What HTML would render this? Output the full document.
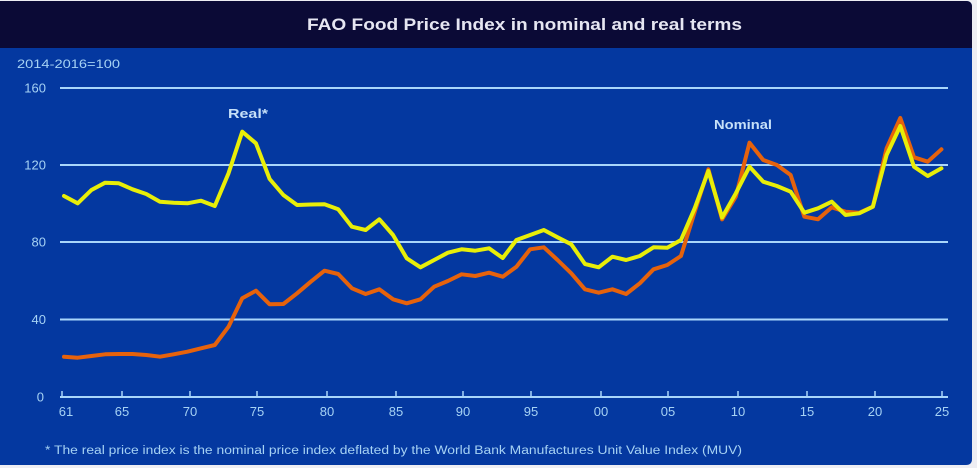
<!DOCTYPE html>
<html><head><meta charset="utf-8"><style>
html,body{margin:0;padding:0;background:#eeeef3;}
svg{display:block;}
text{font-family:"Liberation Sans",sans-serif;}
</style></head><body>
<svg width="977" height="468" viewBox="0 0 977 468" xmlns="http://www.w3.org/2000/svg">
<rect x="0" y="0" width="977" height="468" fill="#eeeef3"/>
<path d="M0,1 H966 Q972,1 972,7 V459 Q972,465 966,465 H0 Z" fill="#0438a0"/>
<path d="M0,1 H966 Q972,1 972,7 V48 H0 Z" fill="#0b0a36"/>
<text x="307" y="30" font-size="17" font-weight="bold" fill="#e6e6f2" textLength="435" lengthAdjust="spacingAndGlyphs">FAO Food Price Index in nominal and real terms</text>
<text x="17" y="68" font-size="12" fill="#a6d2f4" textLength="103" lengthAdjust="spacingAndGlyphs">2014-2016=100</text>
<g stroke="#a9d6fb" stroke-width="2">
<line x1="60" y1="88" x2="948" y2="88"/>
<line x1="60" y1="165" x2="948" y2="165"/>
<line x1="60" y1="242" x2="948" y2="242"/>
<line x1="60" y1="319.5" x2="948" y2="319.5"/>
<line x1="60" y1="397" x2="948" y2="397"/>
</g>
<g stroke="#a9d6fb" stroke-width="1.5">
<line x1="62" y1="397" x2="62" y2="391"/>
<line x1="122" y1="397" x2="122" y2="391"/>
<line x1="190" y1="397" x2="190" y2="391"/>
<line x1="257" y1="397" x2="257" y2="391"/>
<line x1="327" y1="397" x2="327" y2="391"/>
<line x1="396" y1="397" x2="396" y2="391"/>
<line x1="463" y1="397" x2="463" y2="391"/>
<line x1="531" y1="397" x2="531" y2="391"/>
<line x1="601" y1="397" x2="601" y2="391"/>
<line x1="668" y1="397" x2="668" y2="391"/>
<line x1="738" y1="397" x2="738" y2="391"/>
<line x1="807" y1="397" x2="807" y2="391"/>
<line x1="875" y1="397" x2="875" y2="391"/>
<line x1="942" y1="397" x2="942" y2="391"/>
</g>
<g font-size="13" fill="#a6d2f4" text-anchor="end">
<text x="46" y="92.5">160</text>
<text x="46" y="169.5">120</text>
<text x="46" y="246.5">80</text>
<text x="46" y="324">40</text>
<text x="44" y="401.5">0</text>
</g>
<g font-size="13" fill="#a6d2f4" text-anchor="middle">
<text x="66" y="416">61</text>
<text x="122" y="416">65</text>
<text x="190" y="416">70</text>
<text x="257" y="416">75</text>
<text x="327" y="416">80</text>
<text x="396" y="416">85</text>
<text x="463" y="416">90</text>
<text x="531" y="416">95</text>
<text x="601" y="416">00</text>
<text x="668" y="416">05</text>
<text x="738" y="416">10</text>
<text x="807" y="416">15</text>
<text x="875" y="416">20</text>
<text x="942" y="416">25</text>
</g>
<polyline fill="none" stroke="#e6620c" stroke-width="4" stroke-linejoin="round" stroke-linecap="round" points="64,356.7 77.71,357.7 91.42,356 105.13,354.3 118.84,354 132.55,354 146.26,355 159.97,356.7 173.68,354.3 187.39,351.7 201.1,348.3 214.81,345 228.52,326.7 242.23,298.3 255.94,290.7 269.65,304.3 283.36,304 297.07,293.3 310.78,281.7 324.49,270.7 338.2,274 351.91,288.3 365.62,294 379.33,289.3 393.04,299.3 406.75,303.3 420.46,299.3 434.17,286.7 447.88,281 461.59,274.3 475.3,276 489.01,272.7 502.72,276.7 516.43,266.7 530.14,249.3 543.85,247.3 557.56,260 571.27,273.3 584.98,289.3 598.69,292.7 612.4,289.3 626.11,294 639.82,283.3 653.53,269.3 667.24,265 680.95,256 694.66,212 708.37,169.3 722.08,219.3 735.79,196.7 749.5,142.7 763.21,160 776.92,165 790.63,175 804.34,216.7 818.05,219.3 831.76,207.3 845.47,211.7 859.18,212.7 872.89,206.7 886.6,148.3 900.31,118 914.02,157.3 927.73,161.7 941.44,149.3"/>
<polyline fill="none" stroke="#e8ee08" stroke-width="4" stroke-linejoin="round" stroke-linecap="round" points="64,196 77.71,203.3 91.42,190 105.13,182.7 118.84,183.3 132.55,189.3 146.26,194 159.97,201.7 173.68,202.7 187.39,203.3 201.1,200.7 214.81,206 228.52,173.3 242.23,131.7 255.94,143.3 269.65,179 283.36,195 297.07,205 310.78,204.5 324.49,204.3 338.2,209.3 351.91,226.7 365.62,230 379.33,219.3 393.04,235 406.75,258.3 420.46,267.3 434.17,260 447.88,252.7 461.59,249.3 475.3,250.7 489.01,248.3 502.72,258 516.43,240 530.14,235 543.85,230 557.56,237.3 571.27,244.3 584.98,264 598.69,267.3 612.4,256.7 626.11,260 639.82,256 653.53,247.3 667.24,247.7 680.95,240 694.66,208.3 708.37,171 722.08,217.5 735.79,193.3 749.5,166.7 763.21,181.7 776.92,186 790.63,191.7 804.34,212.7 818.05,208.3 831.76,201.7 845.47,215 859.18,213.3 872.89,206.7 886.6,155 900.31,126 914.02,166.7 927.73,176 941.44,168.3"/>
<text x="228" y="118" font-size="13" font-weight="bold" fill="#c6e0f8" textLength="40" lengthAdjust="spacingAndGlyphs">Real*</text>
<text x="714" y="129" font-size="13" font-weight="bold" fill="#c6e0f8" textLength="58" lengthAdjust="spacingAndGlyphs">Nominal</text>
<text x="45" y="454" font-size="11.5" fill="#a6d2f4" textLength="697" lengthAdjust="spacingAndGlyphs">* The real price index is the nominal price index deflated by the World Bank Manufactures Unit Value Index (MUV)</text>
</svg>
</body></html>
